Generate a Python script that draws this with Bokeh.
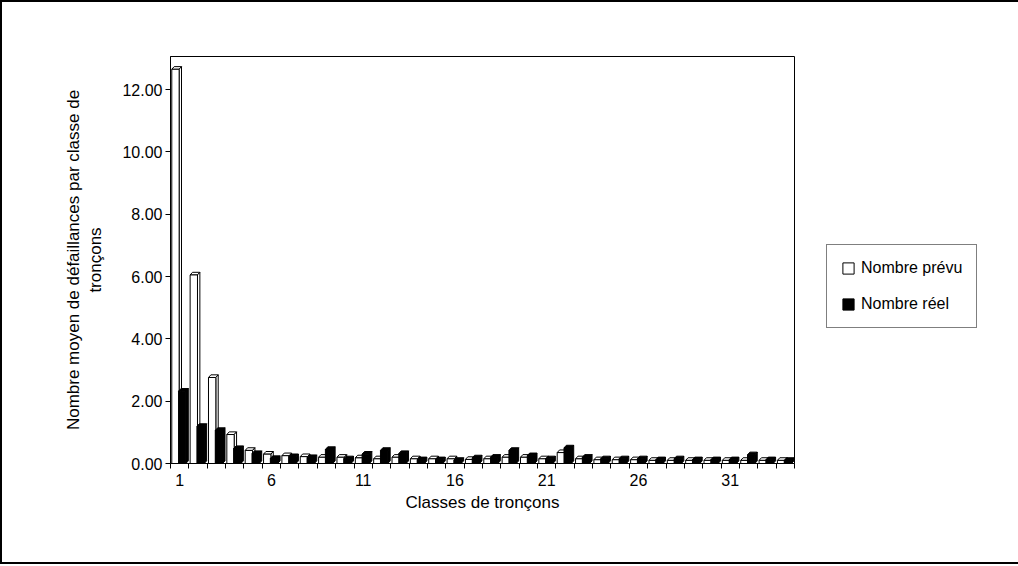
from bokeh.plotting import figure
from bokeh.models import (FixedTicker, NumeralTickFormatter, Legend, LegendItem,
                          Range1d)
from bokeh.embed import file_html
from bokeh.resources import INLINE

categories = list(range(1, 35))
tick_labels = [1, 6, 11, 16, 21, 26, 31]
prevu = [12.65, 6.05, 2.76, 0.93, 0.42, 0.30, 0.25, 0.22, 0.20, 0.20, 0.18, 0.15,
         0.20, 0.15, 0.15, 0.15, 0.13, 0.15, 0.20, 0.20, 0.15, 0.35, 0.15, 0.12,
         0.12, 0.12, 0.10, 0.10, 0.10, 0.10, 0.10, 0.10, 0.10, 0.10]
reel = [2.32, 1.19, 1.06, 0.48, 0.32, 0.16, 0.22, 0.19, 0.45, 0.15, 0.30, 0.42,
        0.32, 0.12, 0.12, 0.10, 0.18, 0.20, 0.42, 0.25, 0.15, 0.50, 0.20, 0.15,
        0.15, 0.15, 0.12, 0.15, 0.12, 0.12, 0.12, 0.28, 0.12, 0.10]
series_names = ["Nombre prévu", "Nombre réel"]

FONT = "Liberation Sans"

p = figure(width=1012, height=560, output_backend="svg", toolbar_location=None,
           x_range=Range1d(0.5, 34.5), y_range=Range1d(0, 13.06),
           frame_width=624, frame_height=407,
           min_border_left=168, min_border_right=220,
           min_border_top=54, min_border_bottom=99)
p.styles = {"border": "2px solid black"}
p.grid.visible = False
p.outline_line_color = "black"
p.outline_line_width = 1
p.background_fill_color = "white"
p.border_fill_color = "white"

# 3D bar geometry derived from data
bw = 0.40
dx = 0.13
dy = 0.085

def bar_parts(vals, offset):
    lefts = [c + offset for c in categories]
    rights = [l + bw for l in lefts]
    top_xs, top_ys, side_xs, side_ys = [], [], [], []
    for l, r, v in zip(lefts, rights, vals):
        top_xs.append([l, l + dx, r + dx, r])
        top_ys.append([v, v + dy, v + dy, v])
        side_xs.append([r, r + dx, r + dx, r])
        side_ys.append([0, dy, v + dy, v])
    return lefts, rights, top_xs, top_ys, side_xs, side_ys

renderers = []
for vals, offset, fill in [(prevu, -0.43, "white"), (reel, -0.06, "black")]:
    lefts, rights, txs, tys, sxs, sys_ = bar_parts(vals, offset)
    p.patches(txs, tys, fill_color=fill, line_color="black", line_width=1)
    p.patches(sxs, sys_, fill_color=fill, line_color="black", line_width=1)
    r = p.quad(left=lefts, right=rights, bottom=0, top=vals,
               fill_color=fill, line_color="black", line_width=1)
    renderers.append(r)

# axes
xa = p.xaxis[0]
xa.ticker = FixedTicker(ticks=tick_labels,
                        minor_ticks=[c - 0.5 for c in categories] + [34.5])
xa.major_tick_out = 0
xa.major_tick_in = 0
xa.minor_tick_out = 5
xa.minor_tick_in = 0
xa.minor_tick_line_color = "black"
xa.axis_line_color = "black"
xa.major_label_text_font = FONT
xa.major_label_text_font_size = "16px"
xa.major_label_text_color = "black"
xa.major_label_standoff = 5
xa.axis_label = "Classes de tronçons"
xa.axis_label_text_font = FONT
xa.axis_label_text_font_size = "17px"
xa.axis_label_text_font_style = "normal"
xa.axis_label_text_color = "black"
xa.axis_label_standoff = 4

ya = p.yaxis[0]
ya.ticker = FixedTicker(ticks=[0, 2, 4, 6, 8, 10, 12], minor_ticks=[])
ya.formatter = NumeralTickFormatter(format="0.00")
ya.major_tick_out = 5
ya.major_tick_in = 0
ya.minor_tick_out = 0
ya.axis_line_color = "black"
ya.major_label_text_font = FONT
ya.major_label_text_font_size = "16px"
ya.major_label_text_color = "black"
ya.major_label_standoff = 3
ya.axis_label = "Nombre moyen de défaillances par classe de\ntronçons"
ya.axis_label_text_font = FONT
ya.axis_label_text_font_size = "17px"
ya.axis_label_text_font_style = "normal"
ya.axis_label_text_color = "black"
ya.axis_label_standoff = 14

legend = Legend(items=[LegendItem(label=series_names[0], renderers=[renderers[0]]),
                       LegendItem(label=series_names[1], renderers=[renderers[1]])],
                location=(32, 135))
legend.border_line_color = "black"
legend.border_line_width = 1
legend.background_fill_color = "white"
legend.background_fill_alpha = 1
legend.label_text_font = FONT
legend.label_text_font_size = "16px"
legend.label_text_color = "black"
legend.glyph_width = 14
legend.glyph_height = 14
legend.spacing = 18
legend.padding = 14
legend.margin = 0
legend.label_standoff = 6
p.add_layout(legend, "right")

open("out.html", "w").write(file_html(p, INLINE))
